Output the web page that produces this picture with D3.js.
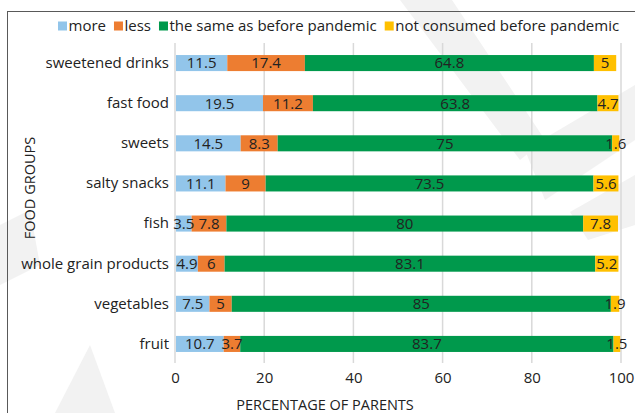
<!DOCTYPE html>
<html lang="en">
  <head>
    <meta charset="utf-8" />
    <title>Food groups consumption</title>
    <script src="https://d3js.org/d3.v7.min.js" charset="utf-8"></script>
    <style>
      body { margin: 0; background: #fff; }
      svg { display: block; font-family: "Open Sans", sans-serif; }
      .tick text { fill: #222; }
    </style>
  </head>
  <body>
    <div id="chart"></div>
    <script>
      // data
      const groups = ["sweetened drinks", "fast food", "sweets", "salty snacks", "fish",
                      "whole grain products", "vegetables", "fruit"];
      const seriesNames = ["more", "less", "the same as before pandemic", "not consumed before pandemic"];
      const more     = [11.5, 19.5, 14.5, 11.1, 3.5, 4.9, 7.5, 10.7];
      const less     = [17.4, 11.2, 8.3, 9, 7.8, 6, 5, 3.7];
      const same     = [64.8, 63.8, 75, 73.5, 80, 83.1, 85, 83.7];
      const notCons  = [5, 4.7, 1.6, 5.6, 7.8, 5.2, 1.9, 1.5];
      const xTicks   = [0, 20, 40, 60, 80, 100];
      const colours  = ["#92c5ea", "#ed7d31", "#00994c", "#ffc000"];

      const W = 635, H = 413;
      const fs = 15;
      const svg = d3.select("#chart").append("svg").attr("width", W).attr("height", H);

      // faint watermark shapes in the background
      const wm = [
        [[400, 0], [452, 0], [545, 140], [520, 160]],
        [[525, 150], [635, 85], [635, 140], [545, 200]],
        [[570, 212], [635, 175], [635, 225], [588, 240]],
        [[0, 225], [30, 210], [40, 265], [0, 285]],
        [[55, 413], [90, 345], [115, 413]]
      ];
      svg.selectAll("polygon.wm").data(wm).join("polygon")
        .attr("class", "wm")
        .attr("points", d => d.map(p => p.join(",")).join(" "))
        .attr("fill", "#f2f2f2");

      // frame
      svg.append("rect").attr("x", 7.5).attr("y", 11.5).attr("width", 640).attr("height", 420)
        .attr("fill", "none").attr("stroke", "#595959").attr("stroke-width", 1);

      const x = d3.scaleLinear().domain([0, 100]).range([175, 621]);
      const y = d3.scaleBand().domain(groups).range([43, 364]).paddingInner(0.6).paddingOuter(0.3);

      // gridlines
      svg.append("g").selectAll("line").data(xTicks).join("line")
        .attr("x1", d => x(d)).attr("x2", d => x(d))
        .attr("y1", 43).attr("y2", 363)
        .attr("stroke", "#d9d9d9").attr("stroke-width", 1.5);

      // stacked data
      const rows = groups.map((g, i) => ({ group: g, more: more[i], less: less[i], same: same[i], notCons: notCons[i] }));
      const keys = ["more", "less", "same", "notCons"];
      const stack = d3.stack().keys(keys)(rows);

      const layers = svg.append("g").selectAll("g").data(stack).join("g")
        .attr("fill", (d, i) => colours[i]);
      layers.selectAll("rect").data(d => d).join("rect")
        .attr("x", d => x(d[0]) + 1)
        .attr("width", d => x(d[1]) - x(d[0]))
        .attr("y", d => y(d.data.group))
        .attr("height", y.bandwidth());

      // value labels
      const labels = svg.append("g").attr("font-size", fs).attr("fill", "#222").attr("text-anchor", "middle");
      stack.forEach(layer => {
        labels.selectAll(null).data(layer).join("text")
          .attr("x", d => x((d[0] + d[1]) / 2) + 1)
          .attr("y", d => y(d.data.group) + y.bandwidth() / 2)
          .attr("dy", "0.36em")
          .text(d => +(d[1] - d[0]).toFixed(1));
      });

      // axes
      const yAxis = svg.append("g").attr("transform", `translate(${x(0)},0)`)
        .call(d3.axisLeft(y).tickSize(0).tickPadding(6));
      yAxis.select(".domain").remove();
      yAxis.selectAll("text").attr("font-size", fs).attr("font-family", "Open Sans");

      const xAxis = svg.append("g").attr("transform", "translate(0,363)")
        .call(d3.axisBottom(x).tickValues(xTicks).tickSize(0).tickPadding(9));
      xAxis.select(".domain").remove();
      xAxis.selectAll("text").attr("font-size", fs).attr("font-family", "Open Sans");

      // axis titles
      svg.append("text").attr("x", 325).attr("y", 410).attr("text-anchor", "middle")
        .attr("font-size", 14.5).attr("fill", "#222").text("PERCENTAGE OF PARENTS");
      svg.append("text").attr("transform", "translate(35,188) rotate(-90)").attr("text-anchor", "middle")
        .attr("font-size", 14.5).attr("fill", "#222").text("FOOD GROUPS");

      // legend, items laid out one after another
      const legend = svg.append("g").attr("transform", "translate(0,26)");
      let lx = 58;
      seriesNames.forEach((name, i) => {
        legend.append("rect").attr("x", lx).attr("y", -4.5).attr("width", 9).attr("height", 9)
          .attr("fill", colours[i]);
        const t = legend.append("text").attr("x", lx + 10.5).attr("dy", "0.36em")
          .attr("font-size", fs).attr("fill", "#222").text(name);
        lx += 10.5 + t.node().getComputedTextLength() + 8;
      });
    </script>
  </body>
</html>
